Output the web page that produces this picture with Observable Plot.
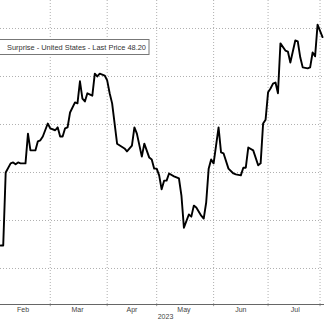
<!DOCTYPE html>
<html>
<head>
<meta charset="utf-8">
<script src="https://cdn.jsdelivr.net/npm/d3@7"></script>
<script src="https://cdn.jsdelivr.net/npm/@observablehq/plot@0.6"></script>
<style>
  html, body { margin: 0; padding: 0; background: #fff; }
  #chart { position: relative; width: 324px; height: 322px; overflow: hidden; }
</style>
</head>
<body>
<div id="chart"></div>
<script>
// ---- data ----
const dates = [
  "2023-02-01","2023-02-02","2023-02-03","2023-02-07","2023-02-08","2023-02-09","2023-02-10","2023-02-13","2023-02-15","2023-02-16","2023-02-17","2023-02-21","2023-02-22","2023-02-23","2023-02-24","2023-02-28",
  "2023-03-01","2023-03-03","2023-03-06","2023-03-07","2023-03-08","2023-03-09","2023-03-10","2023-03-13","2023-03-15","2023-03-16","2023-03-17","2023-03-20","2023-03-21","2023-03-22","2023-03-24","2023-03-27","2023-03-28","2023-03-29","2023-03-31",
  "2023-04-03","2023-04-04","2023-04-05","2023-04-07","2023-04-12","2023-04-13","2023-04-17","2023-04-18","2023-04-19","2023-04-21","2023-04-24","2023-04-26","2023-04-27","2023-04-28",
  "2023-05-01","2023-05-02","2023-05-03","2023-05-04","2023-05-05","2023-05-08","2023-05-10","2023-05-12","2023-05-15","2023-05-16","2023-05-18","2023-05-19","2023-05-22","2023-05-23","2023-05-25","2023-05-26","2023-05-29","2023-05-30","2023-05-31",
  "2023-06-01","2023-06-05","2023-06-06","2023-06-07","2023-06-09","2023-06-13","2023-06-14","2023-06-16","2023-06-19","2023-06-20","2023-06-21","2023-06-23","2023-06-27","2023-06-28","2023-06-29","2023-06-30",
  "2023-07-03","2023-07-04","2023-07-05","2023-07-06","2023-07-07","2023-07-10","2023-07-12","2023-07-13","2023-07-14","2023-07-18","2023-07-19","2023-07-20","2023-07-21","2023-07-25","2023-07-26","2023-07-27","2023-07-28","2023-07-31",
  "2023-08-01","2023-08-02"
];
const values = [
  4.8,4.8,20.0,21.9,22.1,21.7,22.1,21.9,21.9,28.1,24.6,24.6,26.5,26.7,27.5,30.2,
  29.2,28.8,29.4,27.5,27.5,29.2,29.4,32.5,34.6,34.4,39.0,35.4,34.8,36.5,36.0,40.6,40.0,40.6,40.2,
  39.2,36.5,34.4,26.0,25.0,24.4,25.6,29.4,28.1,23.3,26.0,23.1,22.7,20.8,
  20.8,19.4,16.5,18.3,18.3,19.8,19.2,18.75,15.2,8.5,11.25,10.8,13.1,12.7,11.0,10.4,13.75,20.8,22.7,
  21.9,29.4,24.2,24.0,20.8,19.8,19.6,19.4,21.0,21.0,25.2,24.6,21.5,21.9,30.2,31.0,
  36.7,37.5,38.5,38.75,36.5,46.9,45.4,45.2,42.9,47.5,47.3,44.0,41.9,41.7,41.9,45.0,44.2,50.8,
  49.5,48.2
];
const yGridValues = [0, 10, 20, 30, 40, 50];
const monthStarts = ["2023-03-01","2023-04-03","2023-05-01","2023-06-01","2023-07-03","2023-08-01"];
const monthLabelDates = ["2023-02-14","2023-03-16","2023-04-17","2023-05-16","2023-06-16","2023-07-18"];
const monthLabels = ["Feb","Mar","Apr","May","Jun","Jul"];
const yearLabel = "2023";
const legendText = "Surprise - United States - Last Price 48.20";

// ---- business-day index (weekends removed, as on the source axis) ----
const base = new Date("2023-03-01");
const isWeekday = d => d.getUTCDay() !== 0 && d.getUTCDay() !== 6;
function bd(s) {
  const t = new Date(s);
  return t >= base
    ? d3.utcDay.range(base, t).filter(isWeekday).length
    : -d3.utcDay.range(t, base).filter(isWeekday).length;
}
const series = dates.map((d, i) => ({i: bd(d), v: values[i]}));
const gridX = monthStarts.map(bd);
const labelIdx = monthLabelDates.map(bd);
const labelOf = new Map(labelIdx.map((k, j) => [k, monthLabels[j]]));

const yDomain = [-7.5, 55.83];

const chart = Plot.plot({
  width: 324,
  height: 322,
  marginTop: 0,
  marginRight: 0,
  marginBottom: 18,
  marginLeft: 0,
  style: {fontFamily: "'Liberation Sans', Arial, sans-serif", fontSize: "7px", color: "#444", background: "#fff"},
  x: {type: "linear", domain: [-20.1, 110.8], ticks: labelIdx, tickFormat: d => labelOf.get(d) ?? "", tickSize: 0, tickPadding: 3, label: null},
  y: {type: "linear", domain: yDomain, axis: null},
  marks: [
    Plot.ruleY(yGridValues, {stroke: "#b0b0b0", strokeDasharray: "1,2", strokeWidth: 1}),
    Plot.ruleX(gridX, {stroke: "#b0b0b0", strokeDasharray: "1,2", strokeWidth: 1}),
    Plot.ruleX(gridX, {y1: yDomain[0], y2: yDomain[0] - 0.45, stroke: "#999", strokeWidth: 1}),
    Plot.ruleY([yDomain[0]], {stroke: "#666", strokeWidth: 1}),
    Plot.line(series, {x: "i", y: "v", stroke: "#000", strokeWidth: 1.9, strokeLinejoin: "round"}),
    Plot.text([yearLabel], {frameAnchor: "bottom", dy: 14, dx: 3, fill: "#444", fontSize: 7})
  ]
});

document.getElementById("chart").appendChild(chart);

// legend box overlay inside the plot area
const svg = d3.select(chart);
const g = svg.append("g");
g.append("rect")
  .attr("x", -1).attr("y", 39.5).attr("width", 150).attr("height", 15)
  .attr("fill", "#fff").attr("stroke", "#777").attr("stroke-width", 1);
g.append("text")
  .attr("x", 7).attr("y", 50)
  .attr("text-anchor", "start")
  .attr("font-size", 8)
  .attr("font-family", "'Liberation Sans', Arial, sans-serif")
  .attr("fill", "#333")
  .attr("textLength", 139)
  .attr("lengthAdjust", "spacingAndGlyphs")
  .text(legendText);
</script>
</body>
</html>
